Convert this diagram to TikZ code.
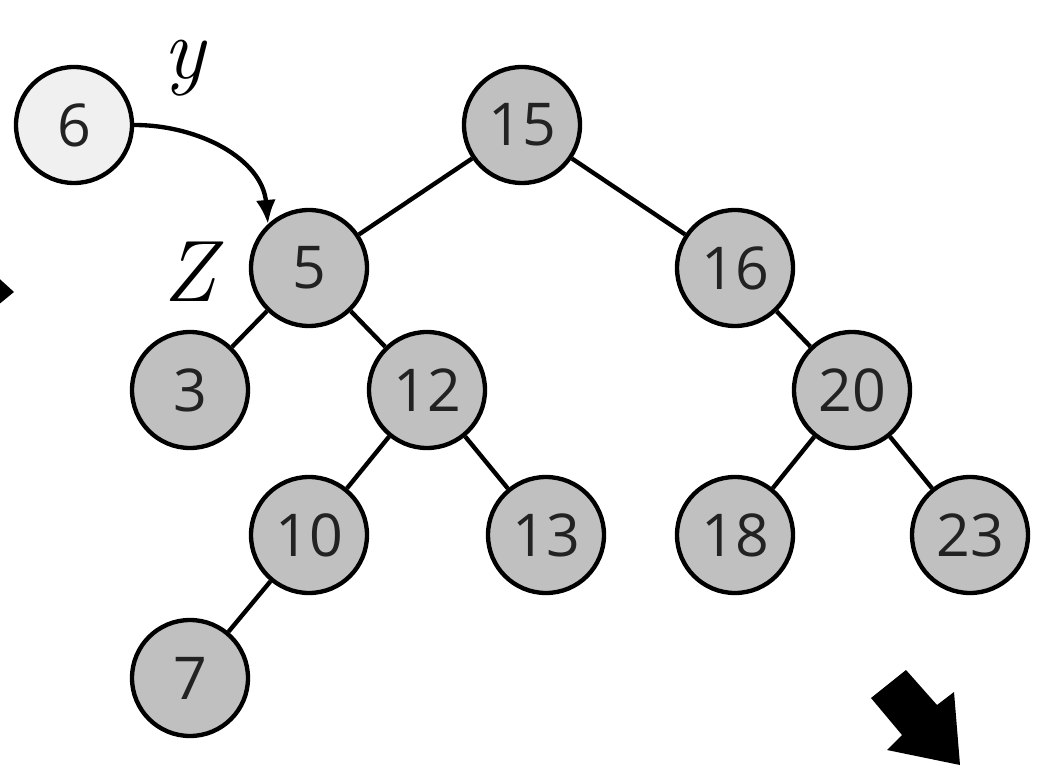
\documentclass[tikz,border=0pt]{standalone}
\usepackage{fontspec}
\newfontfamily\keyfont{Open Sans}
\usepackage{tikz}
\usetikzlibrary{positioning}
\usetikzlibrary{arrows.meta,shapes}
\usetikzlibrary{calc}
\definecolor{keygray}{HTML}{C0C0C0}
\definecolor{newgray}{HTML}{F0F0F0}
\definecolor{keyink}{HTML}{222222}
\tikzstyle{vertex}=[circle,fill=keygray,draw=black,line width=3.1pt,minimum size=2.9cm,inner sep=0pt,text=keyink,font=\keyfont\fontsize{42}{42}\selectfont]
\tikzstyle{newvertex}=[vertex,fill=newgray]
\tikzstyle{undirectededge} = [draw,line width=3.1pt]
\tikzstyle{pointer} = [draw,line width=3.1pt,-{Latex[length=6mm,width=5mm]}]
\tikzstyle{varname} = [font=\itshape\fontsize{62}{62}\selectfont]

\begin{document}
\begin{tikzpicture}[scale=1.]
    \useasboundingbox (0,0) rectangle (26.1,-19.325);
    % First we draw the vertices
    \foreach \pos/\name/\label in {{(13.05,-3.125)/n15/15}, {(7.725,-6.7)/n5/5}, {(18.375,-6.7)/n16/16},
        {(4.75,-9.75)/n3/3}, {(10.675,-9.75)/n12/12}, {(21.3,-9.75)/n20/20},
        {(7.725,-13.375)/n10/10}, {(13.65,-13.375)/n13/13}, {(18.375,-13.375)/n18/18},
        {(24.25,-13.375)/n23/23}, {(4.75,-16.95)/n7/7}}
        \node[vertex] (\name) at \pos {\label};
    \node[newvertex] (n6) at (1.85,-3.125) {6};

    % Connect vertices with edges
    \foreach \source/\dest in {n15/n5, n15/n16, n5/n3, n5/n12, n12/n10, n12/n13, n10/n7, n16/n20, n20/n18, n20/n23}
        \path[undirectededge] (\source) -- (\dest);

    % the node being inserted
    \node[varname] (ylabel) at (4.6,-1.7) {y};
    \node[varname] (zlabel) at (4.75,-6.8) {Z};
    \path[pointer] (n6.east) to[out=0,in=95] (n5.133);

    % arrows at the edges
    \fill[black] (-0.2,-6.8) -- (0.35,-7.3) -- (-0.2,-7.75) -- cycle;
    \fill[black] (21.775,-17.45) -- (22.65,-16.75) -- (23.425,-17.625) -- (23.85,-17.3)
        -- (24.0,-19.125) -- (22.175,-18.75) -- (22.55,-18.375) -- cycle;
\end{tikzpicture}
\end{document}
